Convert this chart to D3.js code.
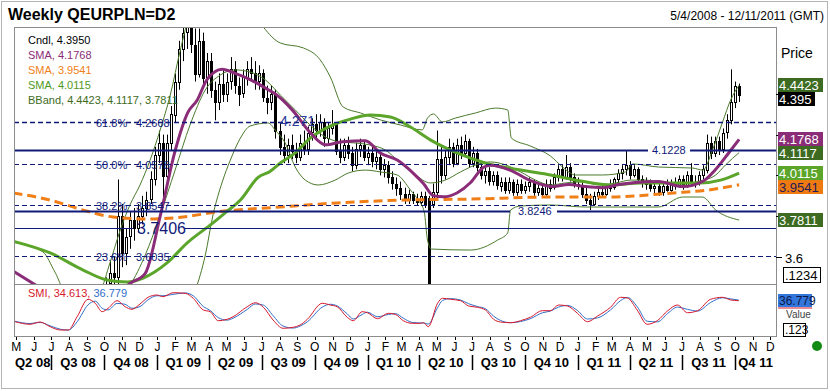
<!DOCTYPE html>
<html><head><meta charset="utf-8">
<script src="https://cdn.jsdelivr.net/npm/d3@7"></script>
<style>
body{margin:0;background:#fff;}
svg{display:block;font-family:Arial,"Liberation Sans",sans-serif;}
</style></head>
<body><svg id="c" width="830" height="391"></svg>
<script>
// ---------- DATA ----------
const chartTitle = "Weekly QEURPLN=D2";
const dateRange = "5/4/2008 - 12/11/2011 (GMT)";
const firstCandleWeek = 22; // weeks after 2008-05-03
const candleOpen = [
3.40,3.47,3.52,3.50,3.80,3.62,3.70,3.78,3.74,3.80,
3.84,3.88,3.98,4.10,4.16,4.00,4.16,4.30,4.46,4.62,
4.70,4.74,4.64,4.50,4.66,4.48,4.56,4.42,4.36,4.45,
4.40,4.46,4.52,4.44,4.40,4.48,4.52,4.50,4.46,4.50,
4.38,4.36,4.40,4.22,4.14,4.10,4.15,4.12,4.09,4.16,
4.13,4.21,4.25,4.22,4.26,4.18,4.23,4.25,4.12,4.09,
4.15,4.11,4.05,4.13,4.15,4.09,4.11,4.07,4.09,4.03,
4.05,3.99,3.96,3.94,3.91,3.88,3.91,3.88,3.87,3.90,
3.89,3.86,3.92,4.08,4.00,4.09,4.14,4.06,4.15,4.11,
4.17,4.06,4.11,4.04,4.00,4.02,3.97,4.00,3.95,3.97,
3.93,3.97,3.92,3.96,3.93,3.95,3.97,3.92,3.94,3.91,
3.96,3.94,3.99,4.03,3.99,4.04,3.99,3.96,3.95,3.91,
3.88,3.86,3.90,3.92,3.91,3.95,3.94,3.98,4.01,4.03,
4.05,4.00,4.03,3.98,3.96,3.97,3.94,3.95,3.92,3.95,
3.93,3.97,3.95,3.98,3.95,4.00,3.97,3.96,4.00,4.03,
4.16,4.11,4.17,4.13,4.21,4.27,4.36,4.44];
const candleHigh = [
3.50,3.58,3.60,3.98,3.86,3.74,3.82,3.84,3.86,3.90,
3.92,4.02,4.14,4.22,4.20,4.20,4.34,4.50,4.66,4.80,
4.92,4.84,4.72,4.72,4.70,4.60,4.60,4.46,4.50,4.52,
4.50,4.58,4.56,4.48,4.52,4.56,4.58,4.56,4.54,4.52,
4.44,4.44,4.42,4.26,4.20,4.18,4.20,4.16,4.20,4.22,
4.24,4.28,4.30,4.30,4.28,4.26,4.32,4.26,4.18,4.18,
4.19,4.14,4.16,4.18,4.17,4.14,4.14,4.12,4.11,4.08,
4.07,4.02,3.99,3.97,3.94,3.93,3.92,3.91,3.92,3.92,
3.90,3.96,4.22,4.14,4.12,4.18,4.16,4.18,4.19,4.20,
4.18,4.14,4.13,4.07,4.04,4.04,4.02,4.02,3.99,3.99,
3.99,3.98,3.98,3.98,3.97,3.99,3.98,3.96,3.96,3.98,
3.98,4.01,4.05,4.05,4.10,4.06,4.01,3.99,3.97,3.94,
3.91,3.92,3.94,3.95,3.96,3.98,3.99,4.03,4.05,4.12,
4.07,4.05,4.04,4.00,3.99,3.98,3.97,3.97,3.96,3.98,
3.98,3.99,4.00,4.00,4.02,4.06,4.00,4.02,4.05,4.20,
4.19,4.19,4.19,4.23,4.30,4.52,4.46,4.45];
const candleLow = [
3.38,3.44,3.46,3.46,3.55,3.56,3.64,3.68,3.72,3.76,
3.80,3.86,3.95,4.06,3.86,3.98,4.12,4.26,4.42,4.56,
4.62,4.60,4.46,4.48,4.44,4.40,4.38,4.27,4.32,4.36,
4.36,4.42,4.40,4.34,4.38,4.44,4.46,4.42,4.42,4.36,
4.30,4.32,4.18,4.10,4.06,4.06,4.08,4.06,4.07,4.10,
4.10,4.17,4.18,4.19,4.14,4.15,4.20,4.10,4.06,4.07,
4.08,4.02,4.03,4.09,4.07,4.05,4.04,4.03,4.00,3.99,
3.96,3.93,3.90,3.88,3.86,3.86,3.86,3.85,3.85,3.84,
3.20,3.84,3.88,3.96,3.98,4.05,4.04,4.05,4.08,4.09,
4.04,4.04,4.02,3.98,3.96,3.95,3.95,3.93,3.92,3.91,
3.91,3.90,3.90,3.91,3.91,3.92,3.90,3.90,3.89,3.90,
3.92,3.93,3.97,3.97,3.98,3.97,3.94,3.93,3.89,3.86,
3.83,3.85,3.88,3.89,3.90,3.92,3.93,3.96,3.98,4.00,
3.98,3.99,3.96,3.94,3.93,3.92,3.91,3.90,3.90,3.92,
3.92,3.93,3.94,3.93,3.94,3.95,3.94,3.95,3.98,4.01,
4.08,4.09,4.10,4.11,4.18,4.25,4.33,4.36];
const candleClose = [
3.47,3.52,3.50,3.80,3.62,3.70,3.78,3.74,3.80,3.84,
3.88,3.98,4.10,4.16,4.00,4.16,4.30,4.46,4.62,4.70,
4.74,4.64,4.50,4.66,4.48,4.56,4.42,4.36,4.45,4.40,
4.46,4.52,4.44,4.40,4.48,4.52,4.50,4.46,4.50,4.38,
4.36,4.40,4.22,4.14,4.10,4.15,4.12,4.09,4.16,4.13,
4.21,4.25,4.22,4.26,4.18,4.23,4.25,4.12,4.09,4.15,
4.11,4.05,4.13,4.15,4.09,4.11,4.07,4.09,4.03,4.05,
3.99,3.96,3.94,3.91,3.88,3.91,3.88,3.87,3.90,3.86,
3.25,3.92,4.08,4.00,4.09,4.14,4.06,4.15,4.11,4.17,
4.06,4.11,4.04,4.00,4.02,3.97,4.00,3.95,3.97,3.93,
3.97,3.92,3.96,3.93,3.95,3.97,3.92,3.94,3.91,3.96,
3.94,3.99,4.03,3.99,4.04,3.99,3.96,3.95,3.91,3.88,
3.86,3.90,3.92,3.91,3.95,3.94,3.98,4.01,4.03,4.05,
4.00,4.03,3.98,3.96,3.97,3.94,3.95,3.92,3.95,3.93,
3.97,3.95,3.98,3.95,4.00,3.97,3.96,4.00,4.03,4.16,
4.11,4.17,4.13,4.21,4.27,4.36,4.44,4.395];

// indicator lines: [week index since 2008-05-03, value]
const smaPurple = [[-1,3.53],[3.9,3.47],[10.6,3.39],[18,3.36],[23,3.39],[27.9,3.47],[31.7,3.52],[35.4,3.80],[39.1,4.12],[42.3,4.31],[44.6,4.37],[47,4.47],[50.8,4.52],[54,4.50],[57.7,4.47],[62.2,4.42],[63.9,4.40],[68.2,4.32],[72.6,4.21],[76.4,4.15],[80.6,4.165],[86.3,4.17],[90,4.11],[94.2,4.075],[98.2,4.01],[100.7,3.96],[103.2,3.90],[105.7,3.895],[109.1,3.915],[112.4,3.965],[115.6,4.04],[117.3,4.05],[122.3,4.025],[127.2,3.975],[132.7,3.945],[136.7,3.955],[140.9,3.945],[145.1,3.94],[149.1,3.955],[153.3,3.965],[159,3.97],[165,3.945],[169.9,3.97],[173.2,4.03],[176.4,4.11],[179,4.1768]];
const smaGreen = [[-1,3.677],[8.1,3.62],[16.3,3.536],[22.2,3.487],[27.2,3.477],[31.2,3.497],[37.1,3.571],[42.1,3.669],[48.5,3.767],[51.5,3.816],[55.3,3.879],[59.7,3.99],[62.7,4.02],[65.2,4.061],[68.9,4.11],[72.6,4.183],[77.6,4.242],[82.6,4.276],[87.5,4.296],[92.5,4.286],[97.5,4.237],[102.4,4.174],[109,4.11],[116,4.061],[124.8,4.026],[132.2,4.002],[139.7,3.973],[147.1,3.953],[154.5,3.963],[162,3.963],[169.4,3.963],[174.4,3.977],[179,4.0115]];
const smaOrange = [[-1,3.914],[8.1,3.879],[16.3,3.83],[23.7,3.796],[32.9,3.786],[41.1,3.796],[49.5,3.821],[65.2,3.845],[79.3,3.865],[95.7,3.879],[112.4,3.884],[132.2,3.894],[146.4,3.894],[162.7,3.914],[171.2,3.928],[179,3.9541]];
const bbUpper = [[-1,3.672],[6.3,3.625],[9.3,3.526],[13,3.39],[18,3.39],[20.5,3.43],[23,3.575],[25.5,3.732],[27.9,3.855],[30.4,3.953],[32.9,4.075],[35.4,4.223],[37.9,4.394],[40.4,4.615],[42.8,4.786],[45.3,4.835],[50.3,4.86],[56.5,4.835],[59.7,4.762],[61,4.727],[65.2,4.649],[70.9,4.625],[75.1,4.566],[77.6,4.482],[80.8,4.335],[85.1,4.306],[90,4.272],[95,4.247],[100.4,4.223],[101.7,4.281],[103.2,4.301],[105.4,4.262],[108.6,4.281],[113.6,4.306],[118.6,4.33],[121.6,4.321],[122.5,4.183],[127.2,4.144],[132.2,4.095],[135.2,4.041],[138.4,4.002],[145.1,4.002],[150.8,4.017],[152.6,4.056],[159,4.041],[167.5,4.036],[170,4.026],[172.4,4.125],[174.9,4.262],[176.9,4.37],[179,4.4423]];
const bbMid = [[-1,3.39],[20.5,3.34],[25.5,3.414],[27.9,3.463],[31.7,3.61],[35.4,3.806],[39.1,4.026],[42.8,4.247],[46.6,4.419],[50.3,4.492],[54,4.517],[57.7,4.507],[61.5,4.468],[65.2,4.394],[68.9,4.321],[72.6,4.247],[76.4,4.188],[80.1,4.164],[83.8,4.159],[87.5,4.149],[91.2,4.125],[95,4.061],[98.7,4.002],[102.4,3.963],[106.1,3.977],[109.9,4.017],[113.6,4.051],[117.3,4.066],[121.1,4.051],[124.8,4.017],[128.5,3.977],[132.2,3.953],[135.9,3.963],[139.7,3.968],[144.6,3.953],[148.4,3.963],[152.1,3.977],[155.8,3.977],[159.5,3.963],[164.5,3.958],[169.4,3.973],[173.2,4.002],[175.6,4.051],[179,4.1117]];
const bbLower = [[-1,3.19],[20.5,3.24],[32.9,3.29],[40.4,3.34],[44.1,3.438],[46.6,3.61],[48.5,3.806],[50.8,3.968],[52.8,4.075],[55.3,4.183],[57.7,4.242],[62.2,4.257],[63.9,4.223],[66.4,4.159],[68.9,4.041],[71.4,3.977],[74.6,3.953],[78.8,3.977],[82.1,4.012],[86.3,4.026],[90,4.017],[94.2,4.002],[97.5,3.928],[99.4,3.879],[100.9,3.821],[101.7,3.683],[102.7,3.639],[112.4,3.634],[119.1,3.683],[121.6,3.718],[122.3,3.83],[124.8,3.85],[132.2,3.855],[140.9,3.845],[149.1,3.845],[159,3.845],[165,3.894],[169.9,3.894],[173.2,3.83],[179,3.7811]];
const smiRed = [[-0.6,-39.5],[3.1,-48.7],[5.6,-40.6],[8.1,-57.2],[10.6,-68.8],[12.6,-68.8],[14.8,-21.9],[17.5,39.5],[19.3,25.4],[21,-4.2],[22.5,7.8],[24.7,34.6],[26.7,13.4],[28.4,4.2],[30.4,22.9],[32.4,46.6],[34.6,54.7],[36.1,48.7],[38.6,62.8],[41.6,60.7],[43.6,43.1],[46.1,1.8],[47.8,-4.2],[49.8,-36],[52,-31.1],[53.5,-21.9],[57,13.4],[59,27.5],[61,11.3],[63.4,-33.5],[65.9,-62.8],[68.4,-59.3],[70.1,-51.2],[71.9,-31.1],[75.6,25.4],[77.6,19.4],[79.3,13.4],[81.8,-24],[83.3,-36],[85.5,-4.2],[86.8,-7.8],[89.3,-28.9],[92,-9.9],[93.7,-13.4],[95.7,-36],[97.9,-45.2],[99.9,-45.2],[100.7,-43.1],[101.9,-57.2],[104.2,25.4],[105.4,43.1],[107.4,39.5],[109.9,34.6],[111.9,15.9],[114.1,11.3],[116.1,1.8],[118.1,-31.1],[119.8,-40.6],[122.3,-43.1],[124.8,-36],[127.2,-24],[130.2,-0.7],[132.2,-0.7],[134.2,19.4],[136.4,15.9],[138.9,-9.9],[141.4,-39.5],[143.9,-19.4],[147.1,11.3],[149.6,46.6],[151.3,44],[153.7,1.8],[156.2,-48.7],[158.8,-35],[161.3,-0.7],[163.7,19.4],[166.2,-7.8],[168.7,-0.7],[171.9,39.5],[174.9,46.6],[176.9,37.1],[178.9,34.613]];
const smiBlue = [[-0.6,-38],[3.1,-46],[5.6,-42],[8.1,-54],[10.6,-66],[12.6,-69],[14.8,-40],[17.5,20],[19.3,33],[21,8],[22.5,2],[24.7,25],[26.7,22],[28.4,8],[30.4,14],[32.4,38],[34.6,52],[36.1,52],[38.6,57],[41.6,62],[43.6,52],[46.1,14],[47.8,0],[49.8,-25],[52,-34],[53.5,-27],[57,4],[59,23],[61,19],[63.4,-18],[65.9,-55],[68.4,-62],[70.1,-55],[71.9,-40],[75.6,12],[77.6,22],[79.3,16],[81.8,-12],[83.3,-30],[85.5,-14],[86.8,-6],[89.3,-22],[92,-14],[93.7,-11],[95.7,-27],[97.9,-42],[99.9,-44],[100.7,-44],[101.9,-48],[104.2,10],[105.4,35],[107.4,42],[109.9,37],[111.9,24],[114.1,14],[116.1,6],[118.1,-20],[119.8,-35],[122.3,-43],[124.8,-39],[127.2,-29],[130.2,-8],[132.2,-2],[134.2,12],[136.4,18],[138.9,0],[141.4,-30],[143.9,-26],[147.1,2],[149.6,35],[151.3,46],[153.7,14],[156.2,-38],[158.8,-40],[161.3,-10],[163.7,12],[166.2,4],[168.7,-2],[171.9,28],[174.9,45],[176.9,41],[178.9,36.779]];

const fibPct = ["61.8%","50.0%","38.2%","23.6%"];
const fibValues = [4.2608, 4.0578, 3.8547, 3.6035];
const trendValues = [4.1228, 3.8246, 3.7406];
const markLabel = {text:"4.271", value:4.271};
const priceTicks = [4.4, 4.2, 4.0, 3.8, 3.6];
const priceTickLabels = ["3.6"];
const legendNames = ["Cndl, 4.3950","SMA, 4.1768","SMA, 3.9541","SMA, 4.0115","BBand, 4.4423, 4.1117, 3.7811"];
const lastValues = [
  {v:"4.4423", val:4.4423, bg:"#3d6b22", fg:"#ffffff"},
  {v:"4.395", val:4.395, bg:"#000000", fg:"#ffffff"},
  {v:"4.1768", val:4.1768, bg:"#8a2c78", fg:"#ffffff"},
  {v:"4.1117", val:4.1117, bg:"#3d6b22", fg:"#ffffff"},
  {v:"4.0115", val:4.0115, bg:"#5aa52a", fg:"#ffffff"},
  {v:"3.9541", val:3.9541, bg:"#f07a12", fg:"#1d1d5a"},
  {v:"3.7811", val:3.7811, bg:"#3d6b22", fg:"#ffffff"}];
const smiLegend = ["SMI, 34.613, ", "36.779"];

// ---------- SCALES ----------
const svg = d3.select("#c");
const x = d3.scaleTime().domain([new Date(2008,3,27), new Date(2011,11,11)]).range([14,776]);
const y = d3.scaleLinear().domain([3.4676, 4.7275]).range([284,27]);
const ys = d3.scaleLinear().domain([-90,90]).range([336,285]);
const base = new Date(2008,4,3).getTime();
const wd = w => new Date(base + w*7*864e5);
const wx = w => x(wd(w));
const NAVY = "#101a78";
const C_PURPLE="#8a2c78", C_GREEN="#5aa52a", C_ORANGE="#f07f18", C_BB="#4a7a2c";

svg.append("rect").attr("width",830).attr("height",391).attr("fill","#fff");
svg.append("rect").attr("x",1.5).attr("y",1.5).attr("width",826).attr("height",387)
  .attr("fill","none").attr("stroke","#b4b4b4");

const defs = svg.append("defs");
defs.append("clipPath").attr("id","cm").append("rect").attr("x",15).attr("y",28).attr("width",761).attr("height",256);
defs.append("clipPath").attr("id","cs").append("rect").attr("x",15).attr("y",285).attr("width",761).attr("height",51);

// title
svg.append("text").attr("x",8).attr("y",20).attr("font-size",16).attr("font-weight","bold").text(chartTitle);
svg.append("text").attr("x",824).attr("y",20).attr("font-size",12).attr("text-anchor","end").text(dateRange);

// ---------- MAIN PANEL ----------
const main = svg.append("g").attr("clip-path","url(#cm)");

const candles = candleOpen.map((o,i)=>({w:firstCandleWeek+i,o,h:candleHigh[i],l:candleLow[i],c:candleClose[i]}));
const cg = main.append("g");
candles.forEach(d=>{
  const cx = Math.round(wx(d.w));
  cg.append("line").attr("x1",cx+0.5).attr("x2",cx+0.5).attr("y1",y(d.h)).attr("y2",y(d.l)).attr("stroke","#000").attr("stroke-width",1);
  const top = y(Math.max(d.o,d.c)), bot = y(Math.min(d.o,d.c));
  cg.append("rect").attr("x",cx-0.5).attr("y",Math.round(top)+0.5).attr("width",2).attr("height",Math.max(1,Math.round(bot-top)))
    .attr("fill", d.c>=d.o ? "#fff" : "#000").attr("stroke","#000").attr("stroke-width",1);
});

const line = d3.line().x(d=>wx(d[0])).y(d=>y(d[1])).curve(d3.curveMonotoneX);
[bbUpper,bbMid,bbLower].forEach(s=>{
  main.append("path").attr("d",line(s)).attr("fill","none").attr("stroke",C_BB).attr("stroke-width",1);
});
main.append("path").attr("d",line(smaOrange)).attr("fill","none").attr("stroke",C_ORANGE).attr("stroke-width",3).attr("stroke-dasharray","9,5");
main.append("path").attr("d",line(smaGreen)).attr("fill","none").attr("stroke",C_GREEN).attr("stroke-width",3);
main.append("path").attr("d",line(smaPurple)).attr("fill","none").attr("stroke",C_PURPLE).attr("stroke-width",3);

fibValues.forEach((v,i)=>{
  const yy = Math.round(y(v))+0.5;
  main.append("line").attr("x1",14).attr("x2",776).attr("y1",yy).attr("y2",yy)
    .attr("stroke",NAVY).attr("stroke-width", i===0?1.6:1).attr("stroke-dasharray","5,3");
  main.append("text").attr("x",96).attr("y",yy+4).attr("font-size",11).attr("fill",NAVY).text(fibPct[i]);
  main.append("text").attr("x",136).attr("y",yy+4).attr("font-size",11).attr("fill",NAVY).text(v.toFixed(4));
});
const trendStyle = [
  {w:2.2, gap:[648,690], lx:652, fs:11},
  {w:2.2, gap:[510,557], lx:518, fs:11},
  {w:1.2, gap:[133,185], lx:137, fs:16}];
trendValues.forEach((v,i)=>{
  const s = trendStyle[i], yy = Math.round(y(v))+0.5;
  main.append("line").attr("x1",14).attr("x2",s.gap[0]).attr("y1",yy).attr("y2",yy).attr("stroke",NAVY).attr("stroke-width",s.w);
  main.append("line").attr("x1",s.gap[1]).attr("x2",776).attr("y1",yy).attr("y2",yy).attr("stroke",NAVY).attr("stroke-width",s.w);
  main.append("text").attr("x",s.lx).attr("y",yy+s.fs*0.36).attr("font-size",s.fs).attr("fill",NAVY).text(v.toFixed(4));
});
main.append("text").attr("x",280).attr("y",y(markLabel.value)+6).attr("font-size",14).attr("fill","#2a3a9a").text(markLabel.text);

const legendColors = ["#000",C_PURPLE,C_ORANGE,"#4f9a22","#3d6b22"];
legendNames.forEach((t,i)=>{
  svg.append("text").attr("x",28).attr("y",44+i*15).attr("font-size",11).attr("fill",legendColors[i]).text(t);
});

// ---------- SMI PANEL ----------
const smi = svg.append("g").attr("clip-path","url(#cs)");
const sline = d3.line().x(d=>wx(d[0])).y(d=>ys(d[1])).curve(d3.curveMonotoneX);
smi.append("path").attr("d",sline(smiBlue)).attr("fill","none").attr("stroke","#2f6fc8").attr("stroke-width",1);
smi.append("path").attr("d",sline(smiRed)).attr("fill","none").attr("stroke","#d8182c").attr("stroke-width",1);
const st = svg.append("text").attr("x",28).attr("y",297).attr("font-size",11);
st.append("tspan").attr("fill","#d8182c").text(smiLegend[0]);
st.append("tspan").attr("fill","#2f6fc8").text(smiLegend[1]);

svg.append("rect").attr("x",14.5).attr("y",27.5).attr("width",762).attr("height",257).attr("fill","none").attr("stroke","#8c8c8c");
svg.append("rect").attr("x",14.5).attr("y",284.5).attr("width",762).attr("height",52).attr("fill","none").attr("stroke","#8c8c8c");

// ---------- RIGHT AXIS ----------
svg.append("text").attr("x",781).attr("y",58).attr("font-size",14).text("Price");
priceTicks.forEach(v=>{
  const yy = Math.round(y(v))+0.5;
  svg.append("line").attr("x1",776).attr("x2",782).attr("y1",yy).attr("y2",yy).attr("stroke","#000");
  const lbl = d3.format(".1f")(v);
  if (priceTickLabels.includes(lbl))
    svg.append("text").attr("x",785).attr("y",yy+5).attr("font-size",13).text(lbl);
});
// value boxes, stacked so they do not overlap
let lastBottom = -Infinity;
lastValues.forEach(d=>{
  const bh = 14;
  let top = Math.round(y(d.val) - bh/2);
  if (top < lastBottom) top = lastBottom;
  lastBottom = top + bh;
  const wdt = d.v.length<=5 ? 37 : 45;
  svg.append("rect").attr("x",778).attr("y",top).attr("width",wdt).attr("height",bh).attr("fill",d.bg);
  svg.append("text").attr("x",779).attr("y",top+12).attr("font-size",13).attr("fill",d.fg).text(d.v);
});
svg.append("rect").attr("x",783.5).attr("y",267.5).attr("width",37).attr("height",15).attr("fill","#fff").attr("stroke","#000");
svg.append("text").attr("x",785).attr("y",280).attr("font-size",13).text(".1234");

svg.append("rect").attr("x",778).attr("y",294).attr("width",34).attr("height",13).attr("fill","#3376dc");
svg.append("line").attr("x1",778).attr("x2",812).attr("y1",308).attr("y2",308).attr("stroke","#d8182c").attr("stroke-width",1.2);
svg.append("text").attr("x",779).attr("y",305).attr("font-size",12).attr("fill","#0c1848").text(smiLegend[1]);
svg.append("text").attr("x",786).attr("y",318).attr("font-size",10).attr("fill","#444").text("Value");
svg.append("rect").attr("x",783.5).attr("y",323.5).attr("width",22).attr("height",13).attr("fill","#fff").attr("stroke","#000");
svg.append("text").attr("x",785).attr("y",334).attr("font-size",12).text(".123");
svg.append("circle").attr("cx",817).attr("cy",346).attr("r",5).attr("fill","#138a13");

// ---------- TIME AXIS ----------
const months = d3.timeMonths(new Date(2008,3,28), new Date(2011,11,11));
months.forEach(m=>{
  const mx = Math.round(x(m))+0.5;
  svg.append("line").attr("x1",mx).attr("x2",mx).attr("y1",337).attr("y2",340).attr("stroke","#000");
  svg.append("text").attr("x",x(m)).attr("y",351).attr("font-size",12).attr("text-anchor","middle")
    .text(d3.timeFormat("%b")(m)[0]);
});
const quarters = d3.timeMonth.every(3).range(new Date(2008,3,1), new Date(2011,11,12));
[new Date(2008,3,1)].concat(quarters.filter(q=>q>new Date(2008,3,1))).forEach(q=>{
  const qe = d3.timeMonth.offset(q,3);
  const a = Math.max(14, x(q)), b = Math.min(776, x(qe));
  const label = "Q" + (Math.floor(q.getMonth()/3)+1) + " " + d3.timeFormat("%y")(q);
  svg.append("text").attr("x",(a+b)/2).attr("y",366.5).attr("font-size",13).attr("font-weight","bold")
    .attr("text-anchor","middle").text(label);
  if (x(q) > 20) {
    const qx = Math.round(x(q))+0.5;
    svg.append("line").attr("x1",qx).attr("x2",qx).attr("y1",355).attr("y2",370).attr("stroke","#000").attr("stroke-width",1.5);
  }
});
</script></body></html>
